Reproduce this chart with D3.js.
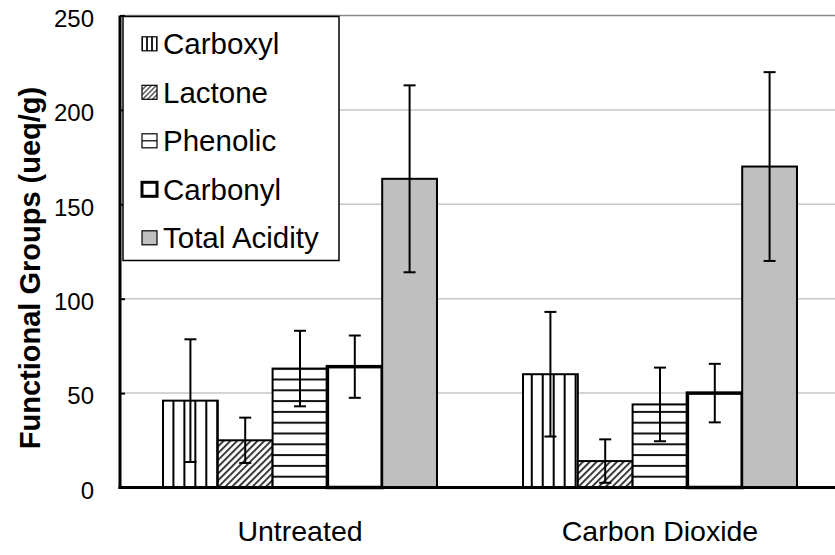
<!DOCTYPE html>
<html>
<head>
<meta charset="utf-8">
<script src="https://cdn.jsdelivr.net/npm/d3@7/dist/d3.min.js"></script>
<style>
  html, body { margin: 0; padding: 0; background: #ffffff; }
  svg { display: block; }
  text { font-family: "Liberation Sans", Arial, Helvetica, sans-serif; fill: #000; }
</style>
</head>
<body>
<svg id="chart" width="835" height="555"></svg>
<script>
// Treatments on the x axis and the functional-group series drawn for each
const categories = ["Untreated", "Carbon Dioxide"];
const seriesNames = ["Carboxyl", "Lactone", "Phenolic", "Carbonyl", "Total Acidity"];

// Mean amounts (ueq/g) and their error-bar half widths
const untreatedMeans = [46, 25, 63, 64, 163.5];
const untreatedErrors = [32.5, 12, 20, 16.5, 49.5];
const co2Means = [60, 14, 44, 50, 170];
const co2Errors = [33, 11.5, 19.5, 15.5, 50];

const yTickValues = [0, 50, 100, 150, 200, 250];

const meansByCategory = [untreatedMeans, co2Means];
const errorsByCategory = [untreatedErrors, co2Errors];

const groups = categories.map((c, gi) => ({
  category: c,
  gi: gi,
  bars: seriesNames.map((s, si) => ({
    series: s, si: si, gi: gi,
    value: meansByCategory[gi][si],
    err: errorsByCategory[gi][si]
  }))
}));

const svg = d3.select("#chart");
const defs = svg.append("defs");

const plotLeft = 120, plotRight = 840, plotTop = 15.5, plotBottom = 487.5;

const x = d3.scaleBand().domain(categories).range([plotLeft, plotRight]).paddingInner(0).paddingOuter(0);
const xs = d3.scaleBand().domain(seriesNames).range([0, x.bandwidth()]).paddingInner(0).paddingOuter(0.785);
const y = d3.scaleLinear().domain([0, 250]).range([plotBottom, plotTop]);

const bw = xs.bandwidth();

// Fill patterns for each bar (anchored to the bar so stripes line up with its edges)
groups.forEach(g => {
  const gx = x(g.category);
  // vertical stripes
  const vx = gx + xs("Carboxyl") - 1;
  const pv = defs.append("pattern").attr("id", "vert-" + g.gi)
    .attr("patternUnits", "userSpaceOnUse")
    .attr("x", vx).attr("y", 0).attr("width", bw / 5).attr("height", 10);
  pv.append("rect").attr("width", bw / 5).attr("height", 10).attr("fill", "#fff");
  pv.append("rect").attr("x", 0).attr("width", 2).attr("height", 10).attr("fill", "#000");
});

// horizontal stripes, counted up from the x axis
const ph = defs.append("pattern").attr("id", "horiz")
  .attr("patternUnits", "userSpaceOnUse")
  .attr("x", 0).attr("y", plotBottom - 1).attr("width", 10).attr("height", 10.8);
ph.append("rect").attr("width", 10).attr("height", 10.8).attr("fill", "#fff");
ph.append("rect").attr("y", 0).attr("width", 10).attr("height", 2).attr("fill", "#111");

// diagonal hatch
const pd = defs.append("pattern").attr("id", "diag")
  .attr("patternUnits", "userSpaceOnUse")
  .attr("width", 4.8).attr("height", 4.8)
  .attr("patternTransform", "rotate(45)");
pd.append("rect").attr("width", 4.8).attr("height", 4.8).attr("fill", "#fff");
pd.append("rect").attr("x", 0).attr("width", 2).attr("height", 4.8).attr("fill", "#3a3a3a");

// small versions for the legend keys
const lv = defs.append("pattern").attr("id", "legend-vert")
  .attr("patternUnits", "userSpaceOnUse").attr("x", 141).attr("y", 0)
  .attr("width", 5).attr("height", 5);
lv.append("rect").attr("width", 5).attr("height", 5).attr("fill", "#fff");
lv.append("rect").attr("width", 2).attr("height", 5).attr("fill", "#222");

const ld = defs.append("pattern").attr("id", "legend-diag")
  .attr("patternUnits", "userSpaceOnUse")
  .attr("width", 3.5).attr("height", 3.5)
  .attr("patternTransform", "rotate(45)");
ld.append("rect").attr("width", 3.5).attr("height", 3.5).attr("fill", "#fff");
ld.append("rect").attr("width", 1.4).attr("height", 3.5).attr("fill", "#444");

function fillFor(d) {
  switch (d.series) {
    case "Carboxyl": return "url(#vert-" + d.gi + ")";
    case "Lactone": return "url(#diag)";
    case "Phenolic": return "url(#horiz)";
    case "Carbonyl": return "#ffffff";
    default: return "#bfbfbf";
  }
}

// gridlines
svg.append("g").selectAll("line")
  .data(yTickValues.filter(v => v > 0))
  .join("line")
  .attr("x1", plotLeft).attr("x2", plotRight)
  .attr("y1", d => y(d)).attr("y2", d => y(d))
  .attr("stroke", d => d === 250 ? "#868686" : "#c6c6c6")
  .attr("stroke-width", 1.5);

// bars
const gSel = svg.append("g").selectAll("g")
  .data(groups).join("g")
  .attr("transform", d => `translate(${x(d.category)},0)`);

gSel.selectAll("rect")
  .data(d => d.bars).join("rect")
  .attr("x", d => xs(d.series))
  .attr("y", d => y(d.value))
  .attr("width", bw)
  .attr("height", d => y(0) - y(d.value))
  .attr("fill", d => fillFor(d))
  .attr("stroke", "#000")
  .attr("stroke-width", d => d.series === "Carbonyl" ? 3.5 : 2);

// error bars
const capHalf = 6;
const eb = gSel.selectAll("g.err")
  .data(d => d.bars).join("g").attr("class", "err");
eb.append("line")
  .attr("x1", d => xs(d.series) + bw / 2).attr("x2", d => xs(d.series) + bw / 2)
  .attr("y1", d => y(d.value + d.err)).attr("y2", d => y(d.value - d.err))
  .attr("stroke", "#000").attr("stroke-width", 2);
eb.append("line")
  .attr("x1", d => xs(d.series) + bw / 2 - capHalf).attr("x2", d => xs(d.series) + bw / 2 + capHalf)
  .attr("y1", d => y(d.value + d.err)).attr("y2", d => y(d.value + d.err))
  .attr("stroke", "#000").attr("stroke-width", 2);
eb.append("line")
  .attr("x1", d => xs(d.series) + bw / 2 - capHalf).attr("x2", d => xs(d.series) + bw / 2 + capHalf)
  .attr("y1", d => y(d.value - d.err)).attr("y2", d => y(d.value - d.err))
  .attr("stroke", "#000").attr("stroke-width", 2);

// y axis: inward ticks, labels on the left
const yAxis = d3.axisLeft(y).tickValues(yTickValues).tickSize(0).tickPadding(26).tickFormat(d3.format("d"));
const yg = svg.append("g").attr("transform", `translate(${plotLeft},0)`).call(yAxis);
yg.select(".domain").remove();
yg.selectAll(".tick text").attr("font-size", 24).attr("dy", "0.45em")
  .style("font-family", "'Liberation Sans', Arial, sans-serif");
yg.selectAll(".tick").append("line")
  .attr("x1", 0).attr("x2", 5).attr("stroke", "#000").attr("stroke-width", 2);

// axis lines
svg.append("line").attr("x1", plotLeft).attr("x2", plotLeft)
  .attr("y1", plotTop).attr("y2", plotBottom + 1.5)
  .attr("stroke", "#000").attr("stroke-width", 3);
svg.append("line").attr("x1", plotLeft - 1.5).attr("x2", plotRight)
  .attr("y1", plotBottom).attr("y2", plotBottom)
  .attr("stroke", "#000").attr("stroke-width", 3);

// x axis labels
const xAxis = d3.axisBottom(x).tickSize(0).tickPadding(33);
const xg = svg.append("g").attr("transform", `translate(0,${plotBottom})`).call(xAxis);
xg.select(".domain").remove();
xg.selectAll(".tick text").attr("font-size", 28.5)
  .style("font-family", "'Liberation Sans', Arial, sans-serif");

// y axis title
svg.append("text")
  .attr("transform", "translate(40,268) rotate(-90)")
  .attr("text-anchor", "middle")
  .attr("font-size", 29)
  .attr("font-weight", "bold")
  .text("Functional Groups (ueq/g)");

// legend
const legend = svg.append("g");
legend.append("rect")
  .attr("x", 123).attr("y", 16.5).attr("width", 216).attr("height", 244)
  .attr("fill", "#fff").attr("stroke", "#000").attr("stroke-width", 1.5);

const legendKeys = {
  "Carboxyl": { fill: "url(#legend-vert)", sw: 1.2 },
  "Lactone": { fill: "url(#legend-diag)", sw: 1.2 },
  "Phenolic": { fill: "#fff", sw: 1.2 },
  "Carbonyl": { fill: "#fff", sw: 3 },
  "Total Acidity": { fill: "#bfbfbf", sw: 1.2 }
};
const rowY = d3.scaleLinear().domain([0, 4]).range([43.8, 237.8]);
const items = legend.selectAll("g.item").data(seriesNames).join("g")
  .attr("class", "item")
  .attr("transform", (d, i) => `translate(0,${rowY(i)})`);
items.append("rect")
  .attr("x", 142).attr("y", -7).attr("width", 15).attr("height", 14)
  .attr("fill", d => legendKeys[d].fill)
  .attr("stroke", "#000")
  .attr("stroke-width", d => legendKeys[d].sw);
items.filter(d => d === "Phenolic").append("line")
  .attr("x1", 142).attr("x2", 157).attr("y1", 0).attr("y2", 0)
  .attr("stroke", "#000").attr("stroke-width", 1.2);
items.append("text")
  .attr("x", 163).attr("y", 10.5)
  .attr("font-size", 29.5)
  .text(d => d);
</script>
</body>
</html>
